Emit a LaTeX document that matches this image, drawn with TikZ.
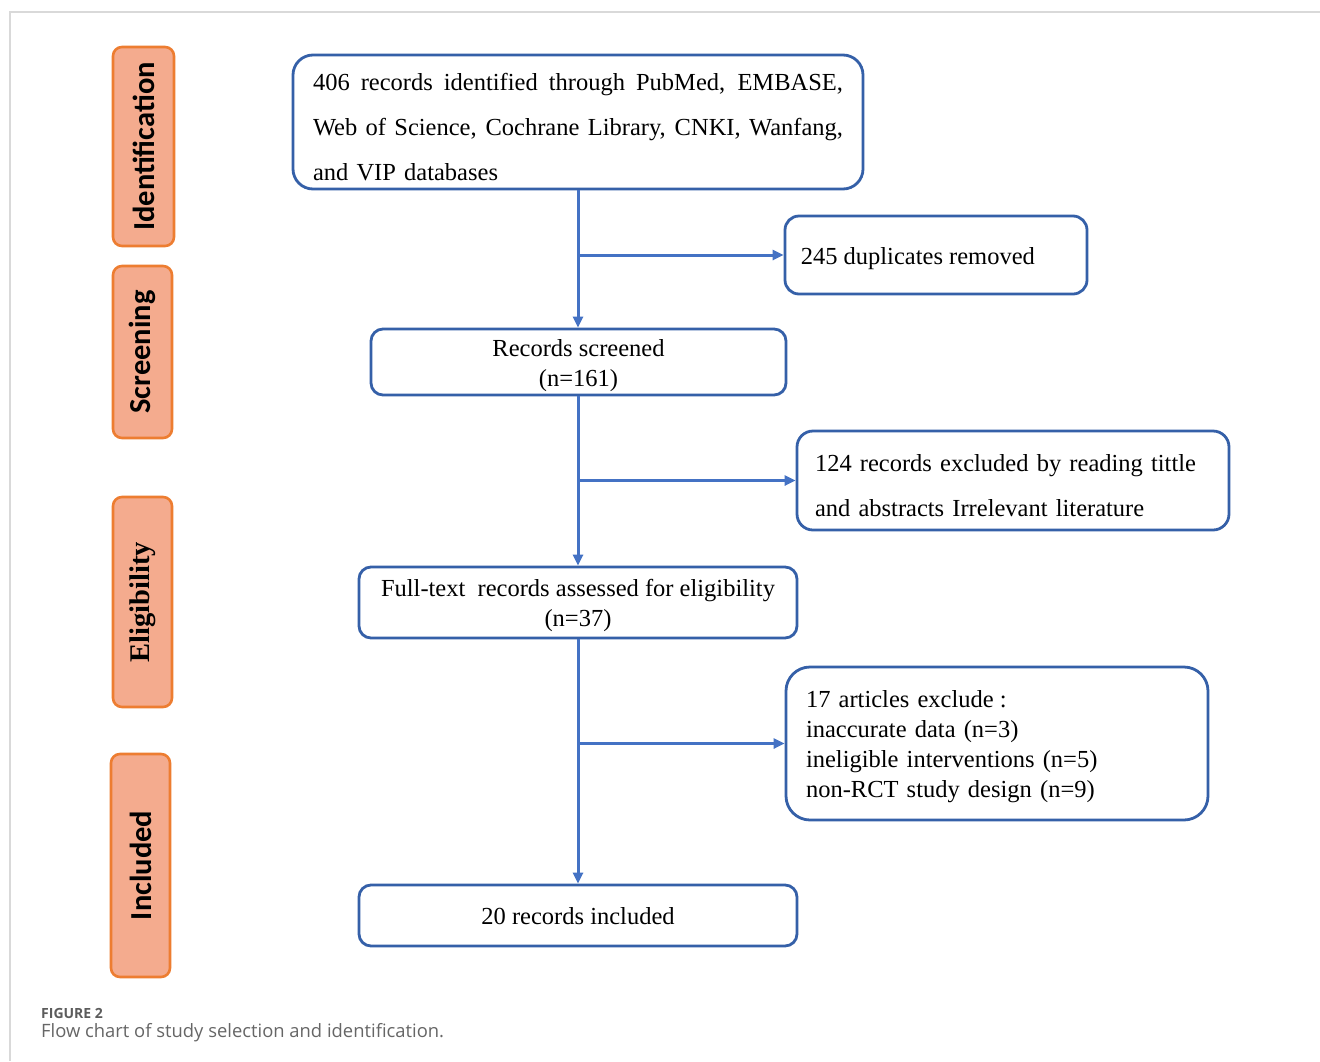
\documentclass[tikz,border=0pt]{standalone}
\usepackage{fontspec}
\setmainfont{Liberation Serif}
\newfontfamily\stagefont{Carlito}
\newfontfamily\capfont{Open Sans}
\usetikzlibrary{arrows.meta}
\definecolor{boxblue}{HTML}{3560A8}
\definecolor{lineblue}{HTML}{4472C4}
\definecolor{stagefill}{HTML}{F4AB8E}
\definecolor{stageedge}{HTML}{ED7D31}
\definecolor{framegray}{HTML}{D9D9D9}
\definecolor{capgray}{HTML}{666666}
\newcommand{\spreadline}[1]{\makebox[530pt][s]{\spaceskip=0.25em plus 1em\relax #1}}
\begin{document}
\begin{tikzpicture}[x=1pt,y=-1pt,
  flowbox/.style={draw=boxblue, line width=2.8pt, rounded corners=12pt, inner sep=0pt, fill=white},
  stagebox/.style={draw=stageedge, fill=stagefill, line width=2.6pt, rounded corners=9pt, rotate=90, inner sep=0pt},
  stagetext/.style={font=\stagefont\bfseries\fontsize{30.5}{30}\selectfont},
  conn/.style={draw=lineblue, line width=3pt},
  arr/.style={conn, -{Triangle[length=11pt,width=10pt]}},
  maintext/.style={font=\fontsize{24.5}{30}\selectfont, inner sep=0pt},
  widetext/.style={font=\fontsize{24.5}{45}\selectfont, inner sep=0pt}
]
\useasboundingbox (0,0) rectangle (1320,1061);
\fill[white] (0,0) rectangle (1320,1061);
\draw[framegray, line width=1.5pt] (1320,12) -- (10,12) -- (10,1061);

% stage labels
\node[stagebox, minimum width=199pt, minimum height=61pt, stagetext] (sid) at (143.5,146.5) {Identification};
\node[stagebox, minimum width=172pt, minimum height=59pt, stagetext] (sscr) at (142.5,352) {Screening};
\node[stagebox, minimum width=210pt, minimum height=59pt, font=\bfseries\fontsize{28.5}{30}\selectfont] (selig) at (142.5,602) {Eligibility};
\node[stagebox, minimum width=223pt, minimum height=59pt, stagetext] (sinc) at (140.5,865.5) {Included};

% flow boxes
\node[flowbox, rounded corners=20pt, minimum width=570pt, minimum height=134pt] (idf) at (578,122) {};
\node[widetext, text width=530pt, align=left] (idft) at ([yshift=-5pt]idf.center)
  {\spreadline{406 records identified through PubMed, EMBASE,}\\\spreadline{Web of Science, Cochrane Library, CNKI, Wanfang,}\\and VIP databases};

\node[flowbox, rounded corners=14pt, minimum width=302pt, minimum height=78pt] (dup) at (936,255) {};
\node[maintext, anchor=west] (dupt) at ([xshift=17pt,yshift=-4pt]dup.west) {245 duplicates removed};

\node[flowbox, minimum width=415pt, minimum height=66pt] (scr) at (578.5,362) {};
\node[maintext, align=center] (scrt) at ([yshift=-4pt]scr.center) {Records screened\\(n=161)};

\node[flowbox, rounded corners=16pt, minimum width=432pt, minimum height=99pt] (ex1) at (1013,480.5) {};
\node[widetext, text width=396pt, align=left] (ex1t) at ([yshift=-5pt]ex1.center)
  {124 records excluded by reading tittle\\and abstracts Irrelevant literature};

\node[flowbox, minimum width=438pt, minimum height=71pt] (full) at (578,602.5) {};
\node[maintext, align=center] (fullt) at ([yshift=-3pt]full.center)
  {Full-text\ \ records assessed for eligibility\\(n=37)};

\node[flowbox, rounded corners=24pt, minimum width=422pt, minimum height=153pt] (ex2) at (997,743.5) {};
\node[maintext, text width=382pt, align=left] (ex2t) at ([yshift=-3pt]ex2.center)
  {17 articles exclude\hspace{0.25em}:\\inaccurate data (n=3)\\ineligible interventions (n=5)\\non-RCT study design (n=9)};

\node[flowbox, minimum width=438pt, minimum height=61pt] (inc) at (578,915.5) {};
\node[maintext] (inct) at ([yshift=-1pt]inc.center) {20 records included};

% connectors
\draw[arr] (idf.south) -- (idf.south |- scr.north);
\draw[arr] (idf.south |- dup.west) -- (dup.west);
\draw[arr] (scr.south -| idf.south) -- (idf.south |- full.north);
\draw[arr] (idf.south |- ex1.west) -- (ex1.west);
\draw[arr] (full.south -| idf.south) -- (idf.south |- inc.north);
\draw[arr] (idf.south |- ex2.west) -- (ex2.west);

% caption
\node[anchor=base west, inner sep=0pt, text=capgray!90!black, font=\capfont\bfseries\fontsize{14}{14}\selectfont] (figlab) at (41,1018) {FIGURE 2};
\node[anchor=base west, inner sep=0pt, text=capgray, font=\capfont\fontsize{18.4}{18.4}\selectfont] (figcap) at (41,1037) {Flow chart of study selection and identification.};
\end{tikzpicture}
\end{document}
